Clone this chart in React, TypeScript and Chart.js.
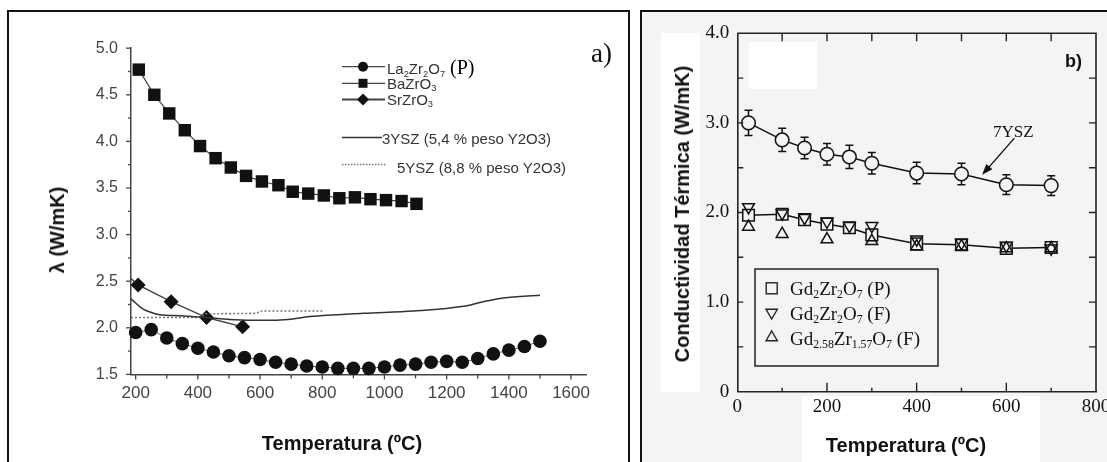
import React, { useEffect, useRef } from "react";
import { Chart, registerables } from "chart.js";
Chart.register(...registerables);

const SANS = '"Liberation Sans", Arial, sans-serif';
const SERIF = '"Liberation Serif", "Times New Roman", serif';

// ---------------- panel a) data ----------------
const laTemps = [200, 250, 300, 350, 400, 450, 500, 550, 600, 650, 700, 750, 800, 850, 900, 950, 1000, 1050, 1100, 1150, 1200, 1250, 1300, 1350, 1400, 1450, 1500];
const laValues = [1.95, 1.98, 1.89, 1.83, 1.78, 1.74, 1.7, 1.68, 1.66, 1.63, 1.61, 1.59, 1.58, 1.565, 1.565, 1.565, 1.58, 1.6, 1.61, 1.63, 1.64, 1.63, 1.67, 1.72, 1.76, 1.8, 1.855];
const baTemps = [210, 260, 308, 358, 407, 457, 506, 555, 606, 659, 705, 755, 805, 855, 905, 955, 1005, 1055, 1103];
const baValues = [4.77, 4.5, 4.3, 4.12, 3.95, 3.82, 3.72, 3.63, 3.57, 3.53, 3.46, 3.44, 3.42, 3.39, 3.4, 3.38, 3.37, 3.36, 3.33];
const srTemps = [185, 208, 314, 428, 544];
const srValues = [2.53, 2.46, 2.28, 2.11, 2.01];
const ysz3Temps = [185, 224, 246, 278, 342, 428, 503, 610, 690, 760, 932, 1093, 1254, 1318, 1382, 1500];
const ysz3Values = [2.31, 2.2, 2.17, 2.14, 2.13, 2.11, 2.09, 2.08, 2.09, 2.12, 2.155, 2.18, 2.23, 2.28, 2.32, 2.35];
const ysz5Temps = [185, 410, 420, 590, 600, 800];
const ysz5Values = [2.11, 2.11, 2.15, 2.155, 2.18, 2.18];

const aXTicks = [200, 400, 600, 800, 1000, 1200, 1400, 1600];
const aYTicks = [1.5, 2.0, 2.5, 3.0, 3.5, 4.0, 4.5, 5.0];
const aXMarks = [200, 300, 400, 500, 600, 700, 800, 900, 1000, 1100, 1200, 1300, 1400, 1500, 1600];
const aYMarks = [1.5, 1.75, 2.0, 2.25, 2.5, 2.75, 3.0, 3.25, 3.5, 3.75, 4.0, 4.25, 4.5, 4.75, 5.0];

// ---------------- panel b) data ----------------
const ysz7Temps = [25, 100, 150, 200, 250, 300, 400, 500, 600, 700];
const ysz7Values = [3.0, 2.81, 2.72, 2.65, 2.62, 2.55, 2.44, 2.43, 2.31, 2.3];
const ysz7Errors = [0.14, 0.13, 0.12, 0.12, 0.13, 0.12, 0.12, 0.12, 0.11, 0.11];
const gdPTemps = [25, 100, 150, 200, 250, 300, 400, 500, 600, 700];
const gdPValues = [1.97, 1.98, 1.92, 1.87, 1.83, 1.75, 1.65, 1.64, 1.6, 1.61];
const gdFTemps = [25, 100, 150, 200, 250, 300, 400, 500, 600, 700];
const gdFValues = [2.06, 1.99, 1.94, 1.9, 1.85, 1.85, 1.7, 1.66, 1.63, 1.6];
const gd258Temps = [25, 100, 200, 300, 400, 500, 600, 700];
const gd258Values = [1.84, 1.76, 1.7, 1.68, 1.62, 1.62, 1.6, 1.6];

const bXTicks = [0, 200, 400, 600, 800];
const bYTicks = [0, 1, 2, 3, 4];
const bXMarks = [0, 100, 200, 300, 400, 500, 600, 700, 800];
const bYMarks = [0, 0.5, 1, 1.5, 2, 2.5, 3, 3.5, 4];
// arrow annotation (data units): from label to 7YSZ curve
const arrowFrom = [618, 2.83];
const arrowTo = [546, 2.42];

const pts = (xs: number[], ys: number[]) => xs.map((x, i) => ({ x, y: ys[i] }));

function triPath(ctx: CanvasRenderingContext2D, x: number, y: number, r: number, down: boolean) {
  const s = down ? -1 : 1;
  ctx.beginPath();
  ctx.moveTo(x, y - s * r);
  ctx.lineTo(x + r * Math.sin((2 * Math.PI) / 3), y + s * r / 2);
  ctx.lineTo(x - r * Math.sin((2 * Math.PI) / 3), y + s * r / 2);
  ctx.closePath();
}

const subS: React.CSSProperties = { fontSize: "0.62em", verticalAlign: "-0.3em", lineHeight: 0 };

function T(props: { x: number; y: number; center?: boolean; rotate?: boolean; style?: React.CSSProperties; children: React.ReactNode }) {
  const { x, y, center, rotate, style, children } = props;
  const tf = rotate ? "translate(-50%,-50%) rotate(-90deg)" : center ? "translate(-50%,-50%)" : "translate(0,-50%)";
  return (
    <div style={{ position: "absolute", left: x, top: y, transform: tf, whiteSpace: "nowrap", lineHeight: 1, zIndex: 5, ...style }}>
      {children}
    </div>
  );
}

export default function App() {
  const refA = useRef<HTMLCanvasElement>(null);
  const refB = useRef<HTMLCanvasElement>(null);

  useEffect(() => {
    const pluginA = {
      id: "marksA",
      afterDraw(chart: any) {
        const { ctx, scales, chartArea } = chart;
        const x = scales.x, y = scales.y;
        ctx.save();
        ctx.strokeStyle = "#444";
        ctx.lineWidth = 1.3;
        aXMarks.forEach((v) => {
          const px = x.getPixelForValue(v);
          ctx.beginPath();
          ctx.moveTo(px, chartArea.bottom);
          ctx.lineTo(px, chartArea.bottom + (v % 200 === 0 ? 5 : 4));
          ctx.stroke();
        });
        aYMarks.forEach((v) => {
          const py = y.getPixelForValue(v);
          ctx.beginPath();
          ctx.moveTo(chartArea.left, py);
          ctx.lineTo(chartArea.left - (Math.abs((v * 2) % 1) < 1e-6 ? 5 : 3), py);
          ctx.stroke();
        });
        // legend samples
        const lx0 = 342, lx1 = 385, mx = 363;
        ctx.strokeStyle = "#444";
        ctx.fillStyle = "#111";
        ctx.lineWidth = 1.2;
        ctx.beginPath(); ctx.moveTo(lx0, 66.7); ctx.lineTo(lx1, 66.7); ctx.stroke();
        ctx.beginPath(); ctx.arc(mx, 66.7, 5, 0, Math.PI * 2); ctx.fill();
        ctx.beginPath(); ctx.moveTo(lx0, 83.3); ctx.lineTo(lx1, 83.3); ctx.stroke();
        ctx.fillRect(mx - 4.5, 83.3 - 4.5, 9, 9);
        ctx.lineWidth = 2;
        ctx.beginPath(); ctx.moveTo(lx0, 99.5); ctx.lineTo(lx1, 99.5); ctx.stroke();
        ctx.beginPath(); ctx.moveTo(mx, 93.5); ctx.lineTo(mx + 6, 99.5); ctx.lineTo(mx, 105.5); ctx.lineTo(mx - 6, 99.5); ctx.closePath(); ctx.fill();
        ctx.lineWidth = 1.5;
        ctx.strokeStyle = "#333";
        ctx.beginPath(); ctx.moveTo(lx0, 137.5); ctx.lineTo(382, 137.5); ctx.stroke();
        ctx.strokeStyle = "#777";
        ctx.setLineDash([1.5, 1.5]);
        ctx.beginPath(); ctx.moveTo(lx0, 164.5); ctx.lineTo(386, 164.5); ctx.stroke();
        ctx.restore();
      },
    };

    const xA: any = {
      type: "linear", min: 185, max: 1650,
      afterFit: (s: any) => { s.height = 87.6; },
      afterBuildTicks: (s: any) => { s.ticks = aXTicks.map((value) => ({ value })); },
      grid: { display: false, drawTicks: false },
      border: { display: true, color: "#444", width: 1.5 },
      ticks: { padding: 9, autoSkip: false, maxRotation: 0, color: "#444", font: { family: SANS, size: 17 }, callback: (v: any) => String(v) },
    };
    const yA: any = {
      type: "linear", min: 1.5, max: 5.0,
      afterFit: (s: any) => { s.width = 131; },
      afterBuildTicks: (s: any) => { s.ticks = aYTicks.map((value) => ({ value })); },
      grid: { display: false, drawTicks: false },
      border: { display: true, color: "#444", width: 1.5 },
      ticks: { padding: 13, autoSkip: false, color: "#444", font: { family: SANS, size: 16 }, callback: (v: any) => Number(v).toFixed(1) },
    };

    const chartA = new Chart(refA.current as HTMLCanvasElement, {
      type: "scatter",
      data: {
        datasets: [
          { label: "3YSZ (5,4 % peso Y2O3)", data: pts(ysz3Temps, ysz3Values), showLine: true, pointRadius: 0, borderColor: "#333", borderWidth: 1.5, cubicInterpolationMode: "monotone", clip: false } as any,
          { label: "5YSZ (8,8 % peso Y2O3)", data: pts(ysz5Temps, ysz5Values), showLine: true, pointRadius: 0, borderColor: "#777", borderWidth: 1.6, borderDash: [2, 2], clip: false } as any,
          { label: "La2Zr2O7 (P)", data: pts(laTemps, laValues), showLine: true, borderColor: "#666", borderWidth: 1, pointStyle: "circle", pointRadius: 6.8, pointBackgroundColor: "#111", pointBorderColor: "#111", pointBorderWidth: 0, clip: false } as any,
          { label: "BaZrO3", data: pts(baTemps, baValues), showLine: true, borderColor: "#444", borderWidth: 1.2, pointStyle: "rect", pointRadius: 8.8, pointBackgroundColor: "#111", pointBorderColor: "#111", pointBorderWidth: 0, clip: false } as any,
          { label: "SrZrO3", data: pts(srTemps, srValues), showLine: true, borderColor: "#444", borderWidth: 1.4, pointStyle: "rectRot", pointRadius: srTemps.map((_, i) => (i === 0 ? 0 : 7.5)), pointBackgroundColor: "#111", pointBorderColor: "#111", pointBorderWidth: 0, clip: false } as any,
        ],
      },
      options: {
        animation: false,
        responsive: false,
        events: [],
        layout: { padding: { left: 0, right: 43.4, top: 48.2, bottom: 0 } },
        plugins: { legend: { display: false }, tooltip: { enabled: false } },
        scales: { x: xA, y: yA },
      } as any,
      plugins: [pluginA],
    });

    const OX = 635; // canvas b offset
    const pluginB = {
      id: "marksB",
      beforeDatasetsDraw(chart: any) {
        const { ctx, scales } = chart;
        ctx.save();
        ctx.strokeStyle = "#111";
        ctx.lineWidth = 1.5;
        ysz7Temps.forEach((t, i) => {
          const px = scales.x.getPixelForValue(t);
          const p1 = scales.y.getPixelForValue(ysz7Values[i] + ysz7Errors[i]);
          const p0 = scales.y.getPixelForValue(ysz7Values[i] - ysz7Errors[i]);
          ctx.beginPath();
          ctx.moveTo(px, p0); ctx.lineTo(px, p1);
          ctx.moveTo(px - 4, p0); ctx.lineTo(px + 4, p0);
          ctx.moveTo(px - 4, p1); ctx.lineTo(px + 4, p1);
          ctx.stroke();
        });
        ctx.restore();
      },
      afterDraw(chart: any) {
        const { ctx, scales, chartArea: a } = chart;
        const x = scales.x, y = scales.y;
        ctx.save();
        ctx.strokeStyle = "#222";
        ctx.lineWidth = 1.6;
        ctx.beginPath();
        ctx.moveTo(a.left, a.top); ctx.lineTo(a.right, a.top); ctx.lineTo(a.right, a.bottom);
        ctx.stroke();
        ctx.lineWidth = 1.4;
        bXMarks.forEach((v) => {
          const px = x.getPixelForValue(v);
          ctx.beginPath();
          if (v !== 0 && v !== 800) {
            ctx.moveTo(px, a.bottom); ctx.lineTo(px, a.bottom - (v % 200 === 0 ? 9 : 4));
            ctx.moveTo(px, a.top); ctx.lineTo(px, a.top + 8);
          }
          ctx.stroke();
        });
        bYMarks.forEach((v) => {
          const py = y.getPixelForValue(v);
          if (v === 0 || v === 4) return;
          ctx.beginPath();
          ctx.moveTo(a.left, py); ctx.lineTo(a.left + 6, py);
          ctx.moveTo(a.right, py); ctx.lineTo(a.right - 7, py);
          ctx.stroke();
        });
        // arrow
        const ax0 = x.getPixelForValue(arrowFrom[0]), ay0 = y.getPixelForValue(arrowFrom[1]);
        const ax1 = x.getPixelForValue(arrowTo[0]), ay1 = y.getPixelForValue(arrowTo[1]);
        const ang = Math.atan2(ay1 - ay0, ax1 - ax0);
        ctx.lineWidth = 1.4;
        ctx.strokeStyle = "#111";
        ctx.fillStyle = "#111";
        ctx.beginPath(); ctx.moveTo(ax0, ay0); ctx.lineTo(ax1 - 6 * Math.cos(ang), ay1 - 6 * Math.sin(ang)); ctx.stroke();
        ctx.beginPath();
        ctx.moveTo(ax1, ay1);
        ctx.lineTo(ax1 - 11 * Math.cos(ang) + 4 * Math.sin(ang), ay1 - 11 * Math.sin(ang) - 4 * Math.cos(ang));
        ctx.lineTo(ax1 - 11 * Math.cos(ang) - 4 * Math.sin(ang), ay1 - 11 * Math.sin(ang) + 4 * Math.cos(ang));
        ctx.closePath(); ctx.fill();
        // legend box
        ctx.lineWidth = 1.5;
        ctx.strokeStyle = "#222";
        ctx.strokeRect(755 - OX, 269, 183, 97);
        const mx = 771.7 - OX;
        ctx.lineWidth = 1.4;
        ctx.strokeRect(mx - 5.5, 288.3 - 5.5, 11, 11);
        triPath(ctx, mx, 312.5, 6.5, true); ctx.stroke();
        triPath(ctx, mx, 337.5, 6.5, false); ctx.stroke();
        ctx.restore();
      },
    };

    const xB: any = {
      type: "linear", min: 0, max: 800,
      afterFit: (s: any) => { s.height = 70.3; },
      afterBuildTicks: (s: any) => { s.ticks = bXTicks.map((value) => ({ value })); },
      grid: { display: false, drawTicks: false },
      border: { display: true, color: "#222", width: 1.6 },
      ticks: { padding: 4, autoSkip: false, maxRotation: 0, color: "#111", font: { family: SERIF, size: 19 }, callback: (v: any) => String(v) },
    };
    const yB: any = {
      type: "linear", min: 0, max: 4,
      afterFit: (s: any) => { s.width = 102.3; },
      afterBuildTicks: (s: any) => { s.ticks = bYTicks.map((value) => ({ value })); },
      grid: { display: false, drawTicks: false },
      border: { display: true, color: "#222", width: 1.6 },
      ticks: { padding: 8, autoSkip: false, color: "#111", font: { family: SERIF, size: 19 }, callback: (v: any) => (Number(v) === 0 ? "0" : Number(v).toFixed(1)) },
    };
    const open = { pointBackgroundColor: "rgba(0,0,0,0)", pointBorderColor: "#111", pointBorderWidth: 1.5 };

    const chartB = new Chart(refB.current as HTMLCanvasElement, {
      type: "scatter",
      data: {
        datasets: [
          { label: "Gd2.58Zr1.57O7 (F)", data: pts(gd258Temps, gd258Values), pointStyle: "triangle", pointRadius: 6.8, ...open, clip: false } as any,
          { label: "Gd2Zr2O7 (F)", data: pts(gdFTemps, gdFValues), pointStyle: "triangle", pointRotation: 180, pointRadius: 6.8, ...open, clip: false } as any,
          { label: "Gd2Zr2O7 (P)", data: pts(gdPTemps, gdPValues), showLine: true, borderColor: "#111", borderWidth: 1.5, pointStyle: "rect", pointRadius: 8.2, ...open, pointBackgroundColor: "#f4f4f4", clip: false } as any,
          { label: "7YSZ", data: pts(ysz7Temps, ysz7Values), showLine: true, borderColor: "#111", borderWidth: 1.5, pointStyle: "circle", pointRadius: 6.8, ...open, pointBackgroundColor: "#f4f4f4", clip: false } as any,
        ],
      },
      options: {
        animation: false,
        responsive: false,
        events: [],
        layout: { padding: { left: 0, right: 19, top: 33.3, bottom: 0 } },
        plugins: { legend: { display: false }, tooltip: { enabled: false } },
        scales: { x: xB, y: yB },
      } as any,
      plugins: [pluginB],
    });

    return () => {
      chartA.destroy();
      chartB.destroy();
    };
  }, []);

  const legA: React.CSSProperties = { fontFamily: SANS, fontSize: 15, color: "#333" };
  const legB: React.CSSProperties = { fontFamily: SERIF, fontSize: 19, color: "#111" };
  const title: React.CSSProperties = { fontFamily: SANS, fontSize: 20, fontWeight: "bold", color: "#111" };

  return (
    <div style={{ position: "absolute", left: 0, top: 0, width: 1107, height: 462, overflow: "hidden", background: "#fff" }}>
      <div style={{ position: "absolute", left: 641, top: 11, width: 470, height: 460, background: "#f4f4f4" }} />
      <div style={{ position: "absolute", left: 661, top: 33, width: 39, height: 359, background: "#fff" }} />
      <div style={{ position: "absolute", left: 802, top: 396, width: 238, height: 70, background: "#fff" }} />
      <div style={{ position: "absolute", left: 749, top: 42, width: 68, height: 47, background: "#fff" }} />
      <div style={{ position: "absolute", left: 7, top: 10, width: 619, height: 460, borderLeft: "2px solid #111", borderTop: "2px solid #111", borderRight: "2px solid #111", zIndex: 3 }} />
      <div style={{ position: "absolute", left: 640, top: 10, width: 470, height: 460, borderLeft: "2px solid #111", borderTop: "2px solid #111", zIndex: 3 }} />

      <canvas ref={refA} width={630} height={462} style={{ position: "absolute", left: 0, top: 0, width: 630, height: 462, zIndex: 4 }} />
      <canvas ref={refB} width={480} height={462} style={{ position: "absolute", left: 635, top: 0, width: 480, height: 462, zIndex: 4 }} />

      <T x={57} y={230} rotate style={title}>λ (W/mK)</T>
      <T x={342} y={443} center style={title}>Temperatura (ºC)</T>
      <T x={591} y={53} style={{ fontFamily: SERIF, fontSize: 27, color: "#111" }}>a)</T>
      <T x={387} y={66.5} style={legA}>
        La<sub style={subS}>2</sub>Zr<sub style={subS}>2</sub>O<sub style={subS}>7</sub>
        <span style={{ fontFamily: SERIF, fontSize: 20, color: "#000" }}> (P)</span>
      </T>
      <T x={387} y={83} style={legA}>BaZrO<sub style={subS}>3</sub></T>
      <T x={387} y={99} style={legA}>SrZrO<sub style={subS}>3</sub></T>
      <T x={382} y={137.5} style={legA}>3YSZ (5,4 % peso Y2O3)</T>
      <T x={397} y={166.5} style={legA}>5YSZ (8,8 % peso Y2O3)</T>

      <T x={682} y={213.5} rotate style={title}>Conductividad Térmica (W/mK)</T>
      <T x={906} y={445} center style={title}>Temperatura (ºC)</T>
      <T x={1065} y={61} style={{ fontFamily: SANS, fontSize: 18, fontWeight: "bold", color: "#111" }}>b)</T>
      <T x={993} y={131} style={{ fontFamily: SERIF, fontSize: 17, color: "#111" }}>7YSZ</T>
      <T x={790} y={288} style={legB}>Gd<sub style={subS}>2</sub>Zr<sub style={subS}>2</sub>O<sub style={subS}>7</sub> (P)</T>
      <T x={790} y={312.5} style={legB}>Gd<sub style={subS}>2</sub>Zr<sub style={subS}>2</sub>O<sub style={subS}>7</sub> (F)</T>
      <T x={790} y={337.5} style={legB}>Gd<sub style={subS}>2.58</sub>Zr<sub style={subS}>1.57</sub>O<sub style={subS}>7</sub> (F)</T>
    </div>
  );
}
